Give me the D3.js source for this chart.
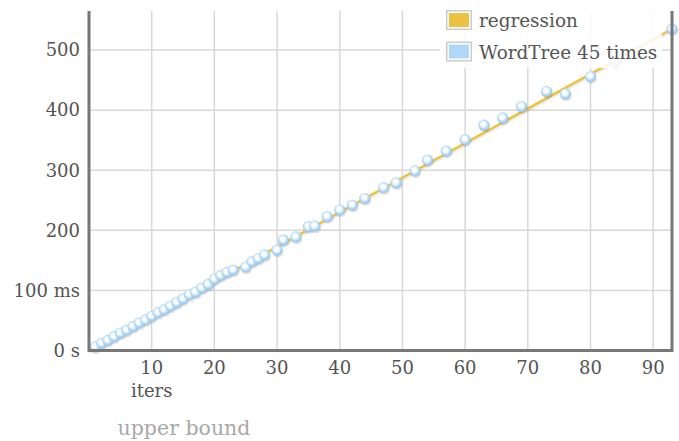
<!DOCTYPE html>
<html>
<head>
<meta charset="utf-8">
<script src="https://cdn.jsdelivr.net/npm/d3@7"></script>
<style>
  body { margin: 0; background: #fff; }
  svg { display: block; font-family: "DejaVu Serif", serif; }
</style>
</head>
<body>
<div id="chart"></div>
<script>
const iters = [1, 2, 3, 4, 5, 6, 7, 8, 9, 10, 11, 12, 13, 14, 15, 16, 17, 18, 19, 20,
  21, 22, 23, 25, 26, 27, 28, 30, 31, 33, 35, 36, 38, 40, 42, 44, 47, 49, 52, 54,
  57, 60, 63, 66, 69, 73, 76, 80, 84, 93];
const times = [6, 12, 17, 23, 29, 34, 40, 46, 51, 57, 63, 68, 74, 80, 86, 93, 97, 104, 110, 119,
  125, 130, 134, 139, 148, 153, 159, 167, 184, 189, 206, 207, 223, 234, 242, 253, 271, 279, 299, 317,
  332, 351, 375, 387, 406, 431, 427, 456, 481, 535];

// regression line end points
const regIters = [0, 93];
const regTimes = [0, 535];

const xTicks = [10, 20, 30, 40, 50, 60, 70, 80, 90];
const yTicks = [0, 100, 200, 300, 400, 500];
const yTickLabels = ["0 s", "100 ms", "200", "300", "400", "500"];

const legendItems = [
  { name: "regression", color: "#edc240" },
  { name: "WordTree 45 times", color: "#afd8f8" }
];

const W = 679, H = 441;
const plotL = 89, plotR = 672, plotT = 11, plotB = 350.5;

const svg = d3.select("#chart").append("svg")
  .attr("width", W)
  .attr("height", H);

const x = d3.scaleLinear().domain([0, 93]).range([plotL, plotR]);
const y = d3.scaleLinear().domain([0, 565]).range([plotB, plotT]);

// grid
svg.append("g")
  .selectAll("line")
  .data(xTicks)
  .join("line")
  .attr("x1", d => x(d)).attr("x2", d => x(d))
  .attr("y1", plotT).attr("y2", plotB)
  .attr("stroke", "#d8d8d8")
  .attr("stroke-width", 1.5);

svg.append("g")
  .selectAll("line")
  .data(yTicks.slice(1))
  .join("line")
  .attr("x1", plotL).attr("x2", plotR)
  .attr("y1", d => y(d)).attr("y2", d => y(d))
  .attr("stroke", "#d8d8d8")
  .attr("stroke-width", 1.5);

// tick labels
svg.append("g")
  .selectAll("text")
  .data(yTicks)
  .join("text")
  .attr("x", plotL - 9)
  .attr("y", d => y(d))
  .attr("dy", "0.35em")
  .attr("text-anchor", "end")
  .attr("fill", "#545454")
  .style("font-size", "18px")
  .text((d, i) => yTickLabels[i]);

svg.append("g")
  .selectAll("text")
  .data(xTicks)
  .join("text")
  .attr("x", d => x(d))
  .attr("y", 368)
  .attr("dy", "0.35em")
  .attr("text-anchor", "middle")
  .attr("fill", "#545454")
  .style("font-size", "18px")
  .text(d => d);

svg.append("text")
  .attr("x", x(10))
  .attr("y", 391)
  .attr("dy", "0.35em")
  .attr("text-anchor", "middle")
  .attr("fill", "#545454")
  .style("font-size", "18px")
  .text("iters");

svg.append("text")
  .attr("x", 184)
  .attr("y", 428)
  .attr("dy", "0.35em")
  .attr("text-anchor", "middle")
  .attr("fill", "#a8a8a8")
  .style("font-size", "20.5px")
  .text("upper bound");

// regression line with a soft shadow
const line = d3.line().x(d => x(d[0])).y(d => y(d[1]));
const regData = regIters.map((d, i) => [d, regTimes[i]]);

svg.append("path")
  .datum(regData)
  .attr("d", line)
  .attr("fill", "none")
  .attr("stroke", "rgba(0,0,0,0.08)")
  .attr("stroke-width", 3)
  .attr("transform", "translate(0,2)");

svg.append("path")
  .datum(regData)
  .attr("d", line)
  .attr("fill", "none")
  .attr("stroke", "#edc240")
  .attr("stroke-width", 2.5);

// points
const defs = svg.append("defs");
const grad = defs.append("radialGradient")
  .attr("id", "dot")
  .attr("cx", "45%").attr("cy", "42%").attr("r", "58%");
grad.append("stop").attr("offset", "0%").attr("stop-color", "#ffffff");
grad.append("stop").attr("offset", "38%").attr("stop-color", "#f6fbff");
grad.append("stop").attr("offset", "65%").attr("stop-color", "#b8dcf7");
grad.append("stop").attr("offset", "100%").attr("stop-color", "#93c4ea");

const pts = iters.map((d, i) => [d, times[i]]);

svg.append("g")
  .selectAll("circle")
  .data(pts)
  .join("circle")
  .attr("cx", d => x(d[0]) + 0.8)
  .attr("cy", d => y(d[1]) + 1.6)
  .attr("r", 5.6)
  .attr("fill", "rgba(0,0,0,0.12)");

svg.append("g")
  .selectAll("circle")
  .data(pts)
  .join("circle")
  .attr("cx", d => x(d[0]))
  .attr("cy", d => y(d[1]))
  .attr("r", 5.6)
  .attr("fill", "url(#dot)");

// axis frame: left, bottom, right
svg.append("path")
  .attr("d", `M${plotL},${plotT}V${plotB}H${plotR}V${plotT}`)
  .attr("fill", "none")
  .attr("stroke", "#777777")
  .attr("stroke-width", 3);

// legend
const legend = svg.append("g");
legend.append("rect")
  .attr("x", 440).attr("y", 0)
  .attr("width", 222).attr("height", 68)
  .attr("fill", "#fff")
  .attr("opacity", 0.85);

const entry = legend.selectAll("g.entry")
  .data(legendItems)
  .join("g")
  .attr("class", "entry")
  .attr("transform", (d, i) => `translate(446,${10 + i * 31.5})`);

entry.append("rect")
  .attr("x", 0.75).attr("y", 0.75)
  .attr("width", 24.5).attr("height", 18.5)
  .attr("fill", "#fff")
  .attr("stroke", "#cccccc")
  .attr("stroke-width", 1.5);

entry.append("rect")
  .attr("x", 3).attr("y", 3)
  .attr("width", 20).attr("height", 14)
  .attr("fill", d => d.color);

entry.append("text")
  .attr("x", 33)
  .attr("y", 11)
  .attr("dy", "0.35em")
  .attr("fill", "#545454")
  .style("font-size", "18.4px")
  .text(d => d.name);
</script>
</body>
</html>
